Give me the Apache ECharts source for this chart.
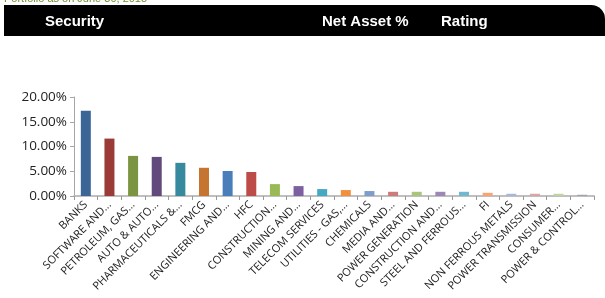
<!DOCTYPE html>
<html>
<head>
<meta charset="utf-8">
<script src="https://cdn.jsdelivr.net/npm/echarts@6/dist/echarts.min.js"></script>
<style>
  html, body { margin: 0; padding: 0; background: #fff; }
  .chart { width: 605px; height: 298px; }
</style>
</head>
<body>
<div class="chart"></div>
<script>
// 行业分布柱状图

const sectors = [
  'BANKS', 'SOFTWARE AND...', 'PETROLEUM, GAS...', 'AUTO & AUTO...',
  'PHARMACEUTICALS &...', 'FMCG', 'ENGINEERING AND...', 'HFC',
  'CONSTRUCTION...', 'MINING AND...', 'TELECOM SERVICES', 'UTILITIES - GAS,...',
  'CHEMICALS', 'MEDIA AND...', 'POWER GENERATION', 'CONSTRUCTION AND...',
  'STEEL AND FERROUS...', 'FI', 'NON FERROUS METALS', 'POWER TRANSMISSION',
  'CONSUMER...', 'POWER & CONTROL...'
];

const netAsset = [
  17.2, 11.6, 8.1, 7.9, 6.7, 5.7, 5.05, 4.85,
  2.4, 2.0, 1.4, 1.2, 1.0, 0.85, 0.85, 0.85,
  0.85, 0.65, 0.45, 0.45, 0.45, 0.25
];

const barColors = [
  '#3A6596', '#9A3B38', '#7A9442', '#624B7C', '#378A9D', '#C5752F',
  '#4A7EBB', '#BD4B48', '#98B954', '#7D60A0', '#46A9C4', '#F0903F',
  '#7E9DCB', '#CD7B79', '#A9C47C', '#9C87B7', '#72B8CF', '#F5A673',
  '#A6B8D8', '#D8A6A5', '#C0D3A4', '#A59FB0'
];

const yTicks = [0, 5, 10, 15, 20];

const headers = ['Security', 'Net Asset %', 'Rating'];

(function () {
  let myChart = echarts.init(document.querySelector('.chart'));

  option = {
    animation: false,
    textStyle: { fontFamily: 'Open Sans, Liberation Sans, sans-serif' },
    graphic: [
      {
        type: 'text', left: 4, top: -7,
        style: { text: 'Portfolio as on June 30, 2015', fill: '#6F8F2F', font: '11px Liberation Sans' }
      },
      {
        type: 'rect', shape: { x: 4, y: 5, width: 601, height: 31, r: [0, 14, 0, 0] },
        style: { fill: '#000' }
      },
      {
        type: 'text', left: 45, top: 14,
        style: { text: headers[0], fill: '#fff', font: 'bold 15px Liberation Sans' }
      },
      {
        type: 'text', left: 322, top: 14,
        style: { text: headers[1], fill: '#fff', font: 'bold 15px Liberation Sans' }
      },
      {
        type: 'text', left: 441, top: 14,
        style: { text: headers[2], fill: '#fff', font: 'bold 15px Liberation Sans' }
      }
    ],
    grid: { left: 74, right: 11, top: 97, bottom: 102, containLabel: false },
    xAxis: {
      type: 'category',
      data: sectors,
      axisLine: { lineStyle: { color: '#BFBFBF', width: 2 } },
      axisTick: { show: true, length: 4, lineStyle: { color: '#9A9A9A' }, alignWithLabel: false },
      axisLabel: {
        interval: 0, rotate: 45, color: '#222', fontSize: 11,
        fontFamily: 'Open Sans', margin: 7
      }
    },
    yAxis: {
      type: 'value',
      min: yTicks[0],
      max: yTicks[yTicks.length - 1],
      interval: 5,
      splitLine: { show: false },
      axisLine: { show: true, lineStyle: { color: '#A6A6A6', width: 1 } },
      axisTick: { show: true, length: 4, lineStyle: { color: '#A6A6A6' } },
      axisLabel: {
        color: '#222', fontSize: 13.5, margin: 7,
        formatter: function (v) { return v.toFixed(2) + '%'; }
      }
    },
    series: [
      {
        type: 'bar',
        barWidth: 10,
        data: netAsset.map(function (v, i) {
          return { value: v, itemStyle: { color: barColors[i] } };
        })
      }
    ]
  };

  myChart.setOption(option);
})();
</script>
</body>
</html>
